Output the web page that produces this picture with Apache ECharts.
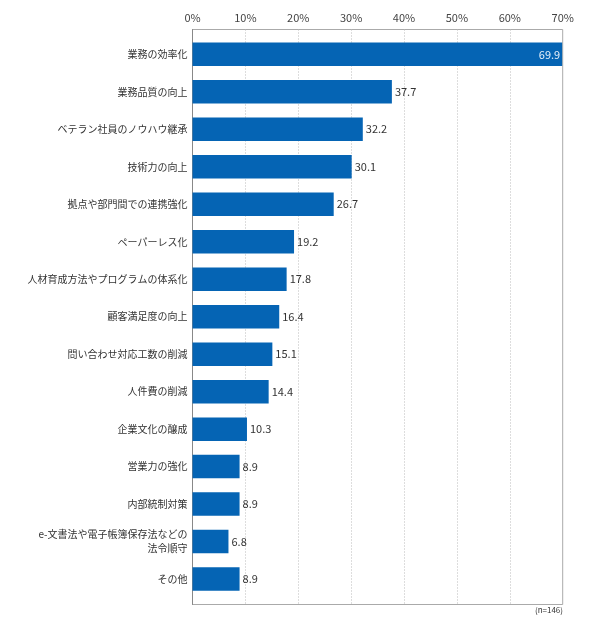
<!DOCTYPE html>
<html>
<head>
<meta charset="utf-8">
<script src="https://cdn.jsdelivr.net/npm/echarts@6/dist/echarts.min.js"></script>
<style>
  html, body { margin: 0; padding: 0; background: #fff; }
  #chart { width: 590px; height: 630px; }
</style>
</head>
<body>
<div id="chart"></div>
<script>
const categories = [
    '業務の効率化',
    '業務品質の向上',
    'ベテラン社員のノウハウ継承',
    '技術力の向上',
    '拠点や部門間での連携強化',
    'ペーパーレス化',
    '人材育成方法やプログラムの体系化',
    '顧客満足度の向上',
    '問い合わせ対応工数の削減',
    '人件費の削減',
    '企業文化の醸成',
    '営業力の強化',
    '内部統制対策',
    'e-文書法や電子帳簿保存法などの\n法令順守',
    'その他'
]
const values = [69.9, 37.7, 32.2, 30.1, 26.7, 19.2, 17.8, 16.4, 15.1, 14.4, 10.3, 8.9, 8.9, 6.8, 8.9]
const xTicks = [0, 10, 20, 30, 40, 50, 60, 70]
const note = '(n=146)'

const font = '"Noto Sans CJK JP", "Noto Sans", sans-serif'
const blue = '#0564b4'

const chart = echarts.init(document.getElementById('chart'), null, { renderer: 'canvas' })

// 最初の棒だけ内側に白文字
const barData = values.map((v, i) => ({
    value: v,
    label: i === 0
        ? { position: 'insideRight', color: '#e8f1fa', distance: 2 }
        : { position: 'right', color: '#333', distance: 3 }
}))

chart.setOption({
    animation: false,
    textStyle: { fontFamily: font },
    grid: [
        // 棒グラフ用
        { left: 192.5, right: 27.3, top: 35.6, bottom: 32.2 },
        // 枠と目盛用
        { left: 192.5, right: 27.3, top: 29.5, bottom: 25.5, show: true, borderColor: '#aaa', borderWidth: 1, backgroundColor: 'transparent' }
    ],
    xAxis: [
        { gridIndex: 0, type: 'value', min: 0, max: 70, show: false },
        {
            gridIndex: 1, type: 'value', position: 'top',
            min: xTicks[0], max: xTicks[xTicks.length - 1], interval: 10,
            axisLine: { show: false },
            axisTick: { show: false },
            axisLabel: { color: '#444', fontSize: 11, margin: 6, formatter: v => v + '%' },
            splitLine: { lineStyle: { color: '#bbb', type: [1, 2] } }
        }
    ],
    yAxis: [
        {
            gridIndex: 0, type: 'category', data: categories, inverse: true,
            axisLine: { show: false },
            axisTick: { show: false },
            axisLabel: { color: '#333', fontSize: 10, margin: 5, align: 'right', lineHeight: 14 }
        },
        {
            gridIndex: 1, type: 'value', min: 0, max: 1,
            axisLine: { show: true, lineStyle: { color: '#888' } },
            axisTick: { show: false },
            axisLabel: { show: false },
            splitLine: { show: false }
        }
    ],
    series: [
        {
            type: 'bar',
            xAxisIndex: 0, yAxisIndex: 0,
            data: barData,
            barWidth: 23.5,
            itemStyle: { color: blue },
            label: { show: true, fontSize: 11, fontFamily: font, formatter: p => p.value.toFixed(1) }
        }
    ],
    graphic: [
        {
            type: 'text', right: 27, top: 606,
            style: { text: note, fill: '#333', fontSize: 8, fontFamily: font }
        }
    ]
})
</script>
</body>
</html>
